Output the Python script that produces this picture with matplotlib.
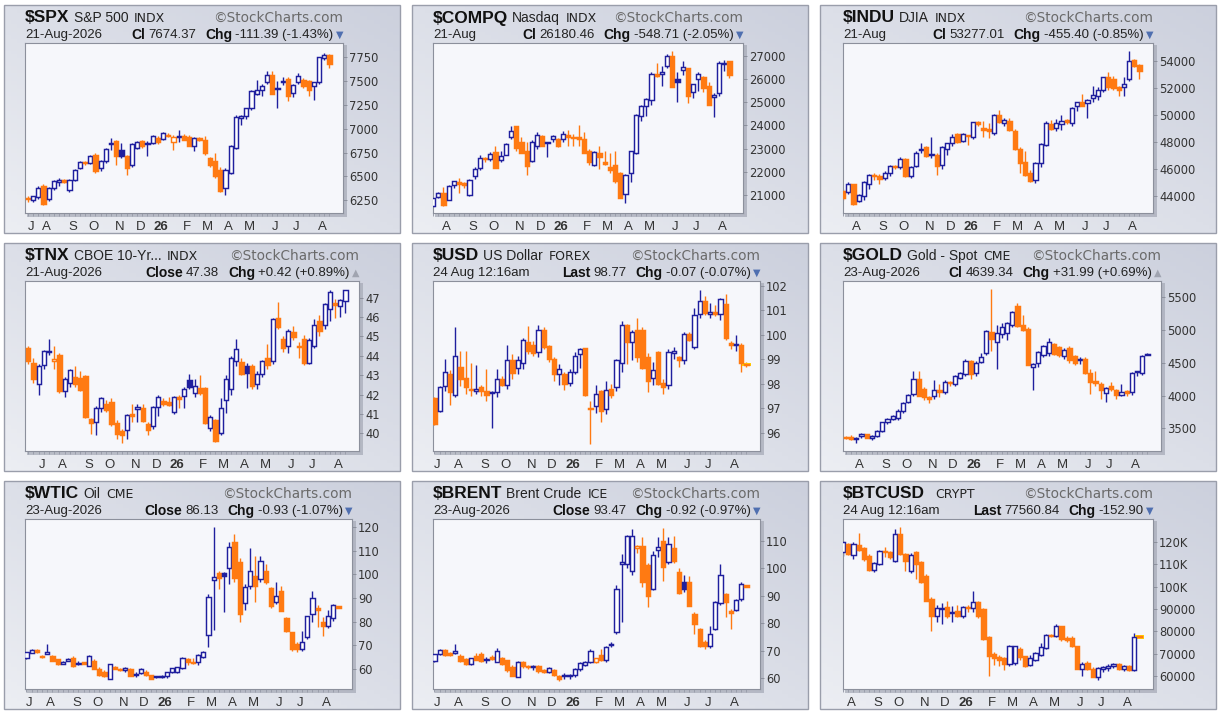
import datetime as dt
import numpy as np
import matplotlib
matplotlib.use('Agg')
import matplotlib.pyplot as plt
from matplotlib.patches import Rectangle

W, H = 1224, 716
BLUE = '#1f1f9e'
ORANGE = '#ff7a12'

# weekly candles (open, high, low, close)
spx = [(6270, 6290, 6235, 6262), (6255, 6300, 6230, 6290), (6280, 6400, 6260, 6380), (6400, 6420, 6205, 6215),
       (6260, 6390, 6240, 6380), (6380, 6460, 6360, 6450), (6440, 6480, 6400, 6465), (6455, 6470, 6430, 6449),
       (6362, 6470, 6340, 6466), (6466, 6580, 6450, 6571), (6590, 6660, 6580, 6651), (6645, 6660, 6620, 6640),
       (6640, 6720, 6630, 6710), (6728, 6740, 6536, 6554), (6588, 6670, 6560, 6658), (6658, 6800, 6645, 6787),
       (6840, 6900, 6780, 6845), (6868, 6880, 6623, 6710), (6773, 6850, 6690, 6718), (6710, 6720, 6519, 6588),
       (6616, 6850, 6600, 6843), (6798, 6870, 6790, 6857), (6868, 6880, 6800, 6815), (6850, 6870, 6710, 6838),
       (6850, 6930, 6840, 6920), (6903, 6920, 6840, 6857), (6892, 6960, 6880, 6955), (6935, 6955, 6915, 6927),
       (6857, 6930, 6780, 6913), (6918, 6990, 6857, 6922), (6920, 6945, 6880, 6885), (6913, 6930, 6815, 6822),
       (6815, 6910, 6763, 6900), (6895, 6910, 6870, 6890), (6885, 6920, 6720, 6745), (6693, 6700, 6600, 6623),
       (6658, 6745, 6480, 6501), (6571, 6600, 6340, 6344), (6379, 6590, 6310, 6571), (6536, 6830, 6520, 6815),
       (6798, 7140, 6790, 7122), (7112, 7140, 7042, 7129), (7129, 7220, 7100, 7216), (7216, 7400, 7200, 7391),
       (7366, 7510, 7350, 7401), (7401, 7470, 7340, 7450), (7485, 7600, 7470, 7565), (7565, 7600, 7360, 7366),
       (7420, 7500, 7216, 7426), (7502, 7540, 7460, 7485), (7520, 7540, 7290, 7338), (7373, 7470, 7330, 7460),
       (7485, 7580, 7470, 7555), (7513, 7530, 7420, 7443), (7495, 7510, 7340, 7401), (7450, 7480, 7300, 7485),
       (7485, 7750, 7470, 7745), (7740, 7795, 7720, 7774), (7774, 7780, 7635, 7674)]

compq = [(20500, 20860, 20450, 20850), (20900, 21100, 20850, 21070), (21070, 21350, 20500, 20570),
         (20780, 21400, 20750, 21360), (21430, 21600, 21300, 21580), (21550, 21720, 21070, 21480),
         (21500, 21550, 21300, 21400), (21000, 21700, 20950, 21650), (21800, 22200, 21700, 22100),
         (22150, 22700, 22050, 22600), (22600, 22650, 22400, 22550), (22560, 22850, 22450, 22780),
         (22870, 23100, 22150, 22150), (22520, 22900, 22400, 22660), (22730, 23250, 22700, 23200),
         (23480, 23980, 23400, 23750), (23960, 23980, 22900, 23030), (23300, 23500, 22800, 22800),
         (22880, 23300, 21850, 22230), (22450, 23350, 22400, 23300), (23100, 23700, 23000, 23600),
         (23530, 23600, 23100, 23100), (23250, 23300, 22650, 23280), (23400, 23600, 23300, 23550),
         (23400, 23450, 23050, 23100), (23400, 23750, 23300, 23650), (23580, 23800, 23100, 23500),
         (23500, 23650, 23100, 23450), (23480, 24000, 23100, 23420), (23400, 23700, 22800, 22820),
         (22900, 23000, 22300, 22400), (22300, 22900, 22250, 22850), (22790, 23100, 22100, 22630),
         (22400, 22900, 22300, 22350), (22200, 22800, 21950, 22050), (22300, 22900, 21500, 21600),
         (21950, 22000, 20850, 20860), (21050, 21900, 20640, 21870), (21940, 22900, 21550, 22880),
         (22800, 24500, 22750, 24450), (24400, 24900, 24200, 24830), (24850, 25200, 24400, 25150),
         (25120, 26300, 24900, 26250), (26200, 26700, 26100, 26170), (26250, 26600, 25700, 26300),
         (26600, 27100, 26500, 27000), (27000, 27220, 25650, 25670), (26000, 26300, 25000, 25880),
         (26400, 26780, 26200, 26550), (26500, 26500, 24980, 25270), (25450, 25800, 25200, 25780),
         (26000, 26300, 25500, 26250), (26100, 26150, 25450, 25630), (25700, 25900, 24900, 24900),
         (25240, 25400, 24370, 25330), (25400, 26800, 25300, 26700), (26680, 26850, 26350, 26720),
         (26780, 26800, 26050, 26180)]

indu = [(44350, 44500, 43700, 43800), (44250, 45000, 44100, 44900), (44850, 44900, 43300, 43350),
        (43600, 44100, 43500, 44050), (44000, 45100, 43700, 45000), (44900, 45600, 44500, 45550),
        (45550, 45700, 45200, 45500), (45500, 45600, 44850, 45250), (45300, 45800, 45200, 45700),
        (45700, 46300, 45500, 46200), (46200, 46300, 45950, 46150), (46150, 46900, 46000, 46700),
        (46700, 46800, 45400, 45450), (45450, 46200, 45300, 46100), (46200, 47300, 46100, 47200),
        (47400, 47900, 47200, 47450), (47600, 47700, 46900, 46950), (47100, 48400, 46800, 47000),
        (47050, 47150, 45550, 46200), (46300, 47700, 46000, 47650), (47450, 47950, 47000, 47900),
        (47900, 48600, 47700, 48400), (48600, 48700, 47950, 48000), (48100, 48700, 48000, 48600),
        (48500, 48550, 47800, 48450), (48400, 49500, 48200, 49450), (49500, 49550, 49200, 49300),
        (49050, 49550, 48400, 48900), (48950, 49400, 48300, 48850), (48700, 50100, 48500, 50000),
        (50000, 50400, 49400, 49450), (49400, 49800, 49200, 49600), (49550, 49800, 48850, 48900),
        (48800, 48950, 47400, 47450), (47450, 47600, 45700, 46450), (46500, 47300, 45500, 45550),
        (45700, 45900, 45050, 45100), (45200, 46500, 44950, 46450), (46450, 47900, 46100, 47850),
        (47800, 49550, 47700, 49400), (49350, 49650, 48900, 49000), (49050, 49700, 48800, 49400),
        (49300, 50000, 48900, 49550), (49600, 49700, 49300, 49500), (49400, 50600, 49150, 50500),
        (50650, 51000, 50300, 50950), (51000, 51600, 50700, 50700), (50900, 51200, 49800, 51150),
        (51300, 52200, 51000, 51500), (51400, 52100, 51100, 51900), (51900, 52800, 51700, 52800),
        (52800, 53200, 51900, 52100), (52700, 52900, 51900, 52050), (52100, 52200, 51400, 51900),
        (52100, 52800, 51400, 52350), (52650, 54750, 52500, 54000), (54100, 54200, 53600, 53650),
        (53700, 53800, 52700, 53277)]

tnx = [(44.4, 44.5, 43.6, 43.75), (43.65, 43.9, 42.6, 42.8), (42.55, 43.6, 42.0, 43.5), (43.55, 44.3, 43.3, 44.25),
       (44.2, 44.85, 44.05, 44.27), (43.72, 44.5, 43.3, 43.82), (44.05, 44.15, 42.1, 42.18), (42.2, 42.9, 41.85, 42.8),
       (42.6, 43.3, 42.4, 43.25), (42.9, 43.5, 42.4, 42.55), (42.85, 43.2, 42.2, 42.25), (42.95, 43.0, 40.8, 40.85),
       (40.75, 40.8, 39.95, 40.55), (40.6, 41.4, 39.9, 41.3), (41.3, 41.9, 41.1, 41.8), (41.5, 41.7, 41.1, 41.2),
       (41.6, 41.8, 40.4, 40.5), (40.55, 40.7, 39.7, 39.95), (40.1, 40.2, 39.5, 39.9), (40.15, 41.0, 39.7, 40.95),
       (41.0, 41.5, 40.6, 40.9), (41.25, 41.5, 40.6, 41.35), (41.3, 41.5, 40.6, 40.65), (40.5, 40.6, 39.9, 40.15),
       (40.4, 41.4, 40.2, 41.35), (41.35, 42.0, 40.9, 41.9), (41.65, 41.8, 41.4, 41.5), (41.6, 41.85, 41.4, 41.45),
       (41.1, 41.95, 41.0, 41.85), (41.85, 42.0, 41.3, 41.75), (41.95, 42.4, 41.3, 42.3), (42.75, 43.05, 42.3, 42.4),
       (42.1, 42.8, 41.9, 42.45), (42.35, 43.0, 42.0, 42.1), (42.35, 42.4, 40.5, 40.55), (40.3, 40.95, 40.1, 40.85),
       (40.7, 40.75, 39.55, 39.6), (40.0, 41.8, 39.9, 41.3), (41.7, 43.0, 41.05, 42.8), (42.3, 44.0, 42.0, 43.9),
       (43.75, 44.85, 43.5, 44.35), (43.7, 43.9, 43.0, 43.05), (43.45, 43.65, 42.35, 43.1), (43.45, 43.6, 42.3, 42.45),
       (42.55, 43.2, 42.3, 43.05), (43.05, 43.8, 42.9, 43.75), (43.9, 44.6, 43.3, 43.55), (43.75, 45.95, 43.6, 45.9),
       (45.95, 46.8, 45.4, 45.5), (44.85, 45.0, 44.2, 44.4), (44.5, 45.4, 44.15, 45.3), (45.25, 45.55, 44.8, 44.95),
       (44.5, 44.7, 43.9, 44.45), (44.85, 45.1, 43.55, 43.65), (43.65, 44.9, 43.6, 44.8), (44.5, 45.9, 44.4, 45.6),
       (45.8, 46.1, 45.0, 45.3), (45.6, 46.75, 45.4, 46.65), (46.4, 47.4, 45.8, 47.3), (46.7, 46.95, 45.95, 46.6),
       (46.55, 46.95, 46.0, 46.9), (46.85, 47.3, 46.2, 47.38)]

usd = [(97.4, 97.45, 96.3, 96.35), (96.9, 97.9, 96.85, 97.85), (97.9, 99.0, 97.7, 98.5), (98.4, 98.55, 97.15, 97.65),
       (97.55, 100.3, 97.45, 99.15), (98.7, 99.35, 97.9, 98.2), (98.25, 99.35, 97.6, 97.85), (97.8, 98.85, 97.5, 97.75),
       (97.72, 98.75, 97.6, 97.78), (97.85, 97.95, 97.5, 97.7), (97.7, 98.6, 97.3, 97.55), (97.63, 97.7, 96.2, 97.67),
       (97.65, 98.6, 97.45, 98.2), (98.2, 98.3, 97.9, 97.95), (97.95, 99.6, 97.8, 98.95), (98.95, 99.2, 98.2, 98.45),
       (98.65, 99.15, 98.4, 98.95), (98.85, 99.85, 98.6, 99.8), (99.7, 100.35, 99.2, 99.35), (99.6, 99.75, 99.15, 99.25),
       (99.3, 100.4, 99.1, 100.2), (100.2, 100.3, 99.4, 99.5), (99.55, 99.6, 98.9, 99.0), (99.0, 99.1, 98.1, 98.4),
       (98.4, 98.8, 97.95, 98.6), (98.4, 98.5, 97.75, 97.98), (98.05, 98.6, 97.9, 98.48), (98.5, 99.3, 98.4, 99.15),
       (99.2, 99.45, 98.65, 99.4), (99.45, 99.45, 97.5, 97.55), (96.98, 97.3, 95.55, 97.0), (97.1, 97.95, 96.8, 97.6),
       (97.7, 97.75, 96.45, 96.9), (96.95, 98.1, 96.75, 97.75), (97.8, 98.0, 97.4, 97.55), (97.85, 99.0, 97.7, 98.95),
       (98.85, 100.55, 98.5, 100.4), (100.4, 100.45, 98.8, 99.7), (99.7, 100.2, 98.95, 100.1), (100.2, 100.7, 98.9, 99.1),
       (100.2, 100.3, 98.6, 98.65), (99.1, 99.25, 97.65, 98.1), (98.25, 98.9, 97.95, 98.55), (99.3, 99.35, 97.95, 98.0),
       (98.05, 98.2, 97.6, 97.85), (97.95, 99.4, 97.8, 99.3), (99.25, 99.5, 99.0, 99.32), (99.1, 99.15, 98.7, 98.98),
       (98.95, 100.1, 98.8, 100.05), (100.05, 100.1, 99.75, 99.8), (99.5, 101.1, 99.4, 100.8), (100.85, 101.85, 100.7, 101.4),
       (101.4, 101.6, 100.8, 100.9), (100.85, 101.3, 100.7, 100.95), (100.95, 101.2, 100.75, 100.85), (100.85, 101.5, 100.6, 101.45),
       (101.25, 101.65, 99.8, 99.85), (99.65, 99.75, 99.4, 99.6), (99.6, 100.0, 99.35, 99.63), (99.6, 99.65, 98.5, 98.85),
       (98.8, 98.88, 98.7, 98.77)]

gold = [(3370, 3390, 3340, 3355), (3360, 3400, 3320, 3345), (3340, 3365, 3280, 3350), (3380, 3430, 3350, 3415),
        (3410, 3420, 3350, 3360), (3355, 3395, 3320, 3390), (3390, 3470, 3370, 3460), (3465, 3600, 3440, 3590),
        (3590, 3660, 3570, 3640), (3640, 3700, 3620, 3690), (3650, 3790, 3630, 3770), (3760, 3900, 3730, 3890),
        (3900, 4030, 3880, 4010), (4020, 4380, 4000, 4250), (4250, 4370, 3990, 4000), (4100, 4130, 3930, 3970),
        (3980, 3990, 3880, 3940), (3990, 4230, 3950, 4090), (4080, 4180, 3970, 4060), (4050, 4230, 4030, 4210),
        (4200, 4220, 4150, 4190), (4170, 4310, 4140, 4290), (4270, 4360, 4250, 4340), (4330, 4550, 4300, 4520),
        (4530, 4540, 4250, 4330), (4340, 4530, 4300, 4500), (4510, 4650, 4490, 4580), (4650, 5000, 4620, 4980),
        (4960, 5620, 4680, 4860), (4820, 5080, 4400, 4950), (4930, 5100, 4880, 5040), (4950, 5120, 4850, 5100),
        (5070, 5280, 5040, 5270), (5360, 5410, 5050, 5060), (5080, 5230, 4980, 5000), (5020, 5040, 4460, 4470),
        (4430, 4500, 4090, 4480), (4490, 4680, 4440, 4670), (4620, 4770, 4590, 4750), (4640, 4880, 4600, 4820),
        (4790, 4800, 4620, 4630), (4740, 4760, 4580, 4620), (4600, 4720, 4560, 4700), (4720, 4760, 4500, 4540),
        (4600, 4620, 4470, 4500), (4540, 4590, 4480, 4560), (4560, 4580, 4330, 4350), (4350, 4400, 4030, 4200),
        (4220, 4380, 4150, 4190), (4170, 4200, 3950, 4090), (4040, 4130, 3900, 4120), (4150, 4200, 4070, 4100),
        (4090, 4100, 3950, 4010), (4010, 4180, 3990, 4050), (4070, 4090, 3990, 4040), (4050, 4360, 4010, 4350),
        (4360, 4380, 4300, 4370), (4340, 4620, 4320, 4607), (4620, 4640, 4610, 4639)]

wtic = [(64.6, 67.2, 64.3, 67.0), (66.9, 68.6, 66.6, 68.2), (68.2, 68.4, 66.9, 67.0), (65.5, 65.8, 64.8, 65.0),
        (66.7, 70.6, 66.5, 66.9), (65.6, 66.0, 63.2, 63.5), (64.0, 64.3, 61.8, 62.2), (62.3, 63.4, 62.0, 63.1),
        (63.5, 64.8, 63.3, 64.2), (64.5, 65.3, 61.0, 61.4), (62.3, 63.5, 61.8, 62.5), (62.6, 63.0, 61.9, 62.3),
        (61.4, 66.0, 61.2, 65.6), (63.5, 64.0, 59.8, 60.0), (60.0, 60.7, 57.0, 57.3), (58.8, 59.5, 56.7, 56.9),
        (55.9, 62.3, 55.7, 61.9), (60.8, 61.2, 59.8, 60.0), (60.0, 60.5, 59.2, 59.8), (59.9, 60.8, 58.5, 60.0),
        (60.0, 60.3, 56.9, 57.2), (57.4, 58.8, 56.5, 57.6), (58.1, 60.3, 57.8, 59.8), (58.8, 59.4, 57.2, 57.5),
        (57.5, 57.6, 55.6, 55.9), (56.6, 57.2, 56.2, 56.8), (56.7, 57.6, 56.2, 56.9), (56.9, 58.6, 56.3, 58.6),
        (58.7, 60.4, 58.2, 60.2), (58.5, 61.0, 58.3, 60.7), (60.2, 65.0, 59.8, 64.5), (64.2, 64.8, 61.5, 62.8),
        (63.0, 64.5, 62.3, 62.6), (62.8, 66.4, 61.6, 66.0), (65.0, 67.5, 64.6, 67.0), (74.2, 91.8, 69.2, 90.3),
        (97.8, 120.0, 76.3, 98.8), (100.8, 101.6, 94.0, 98.4), (100.6, 101.0, 84.0, 99.5), (102.6, 113.6, 96.0, 111.5),
        (113.6, 117.2, 97.0, 98.4), (105.4, 107.0, 79.8, 83.3), (88.0, 96.0, 85.0, 94.6), (95.3, 111.1, 94.0, 101.6),
        (99.5, 108.0, 88.2, 95.3), (98.1, 108.0, 97.0, 105.5), (101.6, 104.5, 96.0, 96.7), (94.2, 94.5, 86.0, 86.8),
        (88.5, 96.7, 87.5, 90.8), (93.2, 95.3, 84.5, 84.7), (81.4, 82.0, 75.8, 76.2), (75.5, 75.8, 67.6, 68.5),
        (70.6, 71.2, 67.0, 68.3), (68.6, 76.2, 67.8, 71.3), (73.5, 82.5, 72.5, 82.5), (83.3, 93.2, 80.0, 90.0),
        (86.0, 87.0, 77.7, 85.0), (80.0, 82.0, 74.0, 78.3), (78.0, 85.0, 77.5, 82.5), (81.5, 87.5, 80.5, 87.06),
        (86.3, 86.5, 85.8, 86.13)]

brent = [(66.4, 69.0, 66.0, 68.8), (68.8, 70.6, 68.3, 70.4), (70.4, 70.8, 68.0, 68.5), (69.2, 69.5, 68.0, 68.3),
         (69.5, 72.4, 69.0, 69.7), (68.2, 68.8, 66.0, 66.4), (67.0, 67.5, 65.0, 65.2), (65.3, 67.5, 65.0, 67.2),
         (68.2, 69.2, 66.5, 66.8), (68.8, 69.5, 66.0, 66.4), (66.9, 67.8, 65.7, 67.0), (67.7, 68.3, 66.5, 66.9),
         (66.0, 71.0, 65.8, 70.0), (67.3, 67.6, 64.8, 65.2), (66.5, 66.8, 62.4, 62.9), (64.0, 64.8, 60.8, 61.0),
         (60.5, 66.3, 60.3, 66.0), (65.8, 66.3, 63.9, 64.3), (64.6, 65.0, 63.5, 64.1), (64.15, 65.0, 63.0, 64.3),
         (64.5, 65.0, 62.0, 62.6), (62.8, 63.3, 62.0, 62.4), (62.4, 64.0, 62.0, 63.8), (63.0, 63.5, 60.8, 61.2),
         (61.0, 61.3, 59.0, 59.8), (60.8, 61.8, 59.9, 61.0), (60.8, 61.7, 59.8, 61.2), (61.2, 63.8, 60.5, 63.4),
         (63.2, 65.8, 62.8, 65.4), (64.8, 66.3, 64.3, 65.8), (65.8, 70.8, 65.5, 69.8), (65.9, 67.5, 65.5, 67.2),
         (68.5, 70.6, 66.4, 66.7), (66.5, 71.8, 66.0, 71.5), (72.0, 73.1, 71.2, 72.6), (76.7, 94.0, 76.0, 92.4),
         (101.7, 105.2, 80.3, 102.3), (101.5, 112.2, 100.0, 111.6), (99.0, 114.2, 97.5, 111.7), (107.2, 108.5, 105.6, 108.1),
         (108.2, 111.2, 93.0, 94.9), (101.2, 102.0, 85.8, 90.0), (92.4, 106.4, 92.0, 104.8), (106.7, 111.2, 104.0, 107.6),
         (110.0, 114.8, 95.5, 100.3), (102.4, 111.2, 101.7, 108.8), (107.2, 111.8, 102.0, 102.7), (98.7, 100.0, 90.5, 91.0),
         (95.0, 97.5, 91.5, 92.4), (95.0, 97.3, 86.2, 86.4), (83.3, 84.0, 76.1, 79.7), (78.0, 78.2, 71.5, 71.8),
         (73.3, 74.0, 70.5, 71.7), (71.8, 79.0, 71.0, 76.0), (78.0, 88.0, 77.5, 87.8), (87.4, 101.5, 86.8, 97.5),
         (90.6, 91.0, 82.2, 87.6), (84.2, 85.2, 78.0, 84.0), (85.0, 88.8, 84.5, 88.6), (88.7, 94.9, 88.2, 94.39),
         (93.6, 93.7, 93.3, 93.47)]

btc = [(115500, 120500, 113500, 119700), (119000, 119500, 114000, 114500), (114000, 120000, 112300, 119000),
       (118500, 123800, 116000, 116500), (117000, 117500, 111500, 112300), (113800, 114500, 107000, 107300),
       (107200, 110800, 106500, 110500), (110100, 116500, 109500, 116000), (115800, 117500, 113000, 115200),
       (115500, 116000, 112500, 113000), (111500, 125600, 111000, 123400), (123400, 126400, 114000, 114500),
       (114500, 115000, 107000, 111500), (107100, 114800, 106000, 114200), (115200, 116000, 103500, 110100),
       (110800, 111500, 101800, 102000), (104800, 105500, 93500, 93700), (94400, 95500, 80300, 87000),
       (86700, 92000, 84000, 90300), (90000, 92800, 83300, 90400), (90800, 93700, 86000, 87000),
       (88300, 91500, 84000, 88500), (89200, 92000, 86500, 87000), (87000, 91500, 85800, 91000),
       (91000, 92000, 88500, 90500), (90300, 98200, 88500, 93300), (93000, 93500, 86000, 87000),
       (90000, 90500, 76000, 76600), (77400, 78000, 60300, 69200), (70000, 71000, 65000, 68000),
       (68500, 69500, 64500, 67500), (68000, 68500, 62800, 65500), (65700, 74000, 64500, 73500),
       (65900, 73500, 65000, 73600), (72200, 73000, 67500, 68500), (69000, 69200, 64200, 64800),
       (65000, 69500, 64500, 68000), (67500, 71000, 67000, 70200), (69300, 75000, 69000, 73200),
       (72500, 79000, 72000, 78500), (78500, 79000, 77500, 78000), (78000, 83200, 77500, 82500),
       (82300, 82500, 75800, 76600), (77000, 77800, 75500, 76000), (77300, 78100, 73000, 73600),
       (73300, 73500, 63200, 63300), (63300, 66500, 60300, 65500), (66000, 67000, 62700, 63300),
       (63300, 64000, 59500, 59800), (59800, 64000, 58200, 63500), (63500, 64500, 62000, 64000),
       (63800, 65500, 62500, 64700), (64700, 66000, 63500, 65500), (65500, 66000, 63000, 63300),
       (63300, 65000, 62300, 64700), (64500, 65000, 62500, 62700), (62700, 79400, 62500, 77700),
       (77700, 77800, 77400, 77561)]

# per-panel header text and scales
symbols = ['$SPX', '$COMPQ', '$INDU', '$TNX', '$USD', '$GOLD', '$WTIC', '$BRENT', '$BTCUSD']
names = ['S&P 500', 'Nasdaq', 'DJIA', 'CBOE 10-Yr...', 'US Dollar', 'Gold - Spot', 'Oil', 'Brent Crude', '']
exchanges = ['INDX', 'INDX', 'INDX', 'INDX', 'FOREX', 'CME', 'CME', 'ICE', 'CRYPT']
date_texts = ['21-Aug-2026', '21-Aug', '21-Aug', '21-Aug-2026', '24 Aug 12:16am', '23-Aug-2026',
              '23-Aug-2026', '23-Aug-2026', '24 Aug 12:16am']
price_labels = ['Cl', 'Cl', 'Cl', 'Close', 'Last', 'Cl', 'Close', 'Close', 'Last']
prices = ['7674.37', '26180.46', '53277.01', '47.38', '98.77', '4639.34', '86.13', '93.47', '77560.84']
changes = ['-111.39 (-1.43%)', '-548.71 (-2.05%)', '-455.40 (-0.85%)', '+0.42 (+0.89%)', '-0.07 (-0.07%)',
           '+31.99 (+0.69%)', '-0.93 (-1.07%)', '-0.92 (-0.97%)', '-152.90']
last_dates = ['2026-08-21', '2026-08-21', '2026-08-21', '2026-08-21', '2026-08-28', '2026-08-28',
              '2026-08-28', '2026-08-28', '2026-08-28']
y_limits = [(6117, 7896), (20205, 27578), (42710, 55365), (39.09, 47.86), (95.25, 102.2), (3155, 5744),
            (51.5, 123.5), (56.1, 117.9), (54360, 130100)]
y_ticks = [list(range(6250, 7751, 250)), list(range(21000, 27001, 1000)), list(range(44000, 54001, 2000)),
           list(range(40, 48)), list(range(96, 103)), list(range(3500, 5501, 500)), list(range(60, 121, 10)),
           list(range(60, 111, 10)), list(range(60000, 120001, 10000))]
btc_tick_labels = ['60000', '70000', '80000', '90000', '100K', '110K', '120K']
series = [spx, compq, indu, tnx, usd, gold, wtic, brent, btc]
highlight_last = [False, False, False, False, True, False, False, False, True]

# plot-area boxes in pixels (left, top, right, bottom)
plot_boxes = [(25, 43, 343, 213), (433, 43, 743, 213), (843, 43, 1153, 213),
              (25, 281, 359, 451), (433, 281, 760, 451), (843, 281, 1161, 451),
              (25, 519, 352, 689), (433, 519, 760, 689), (843, 519, 1153, 689)]
frame_x = [4, 412, 820]
frame_y = [5, 243, 481]
FW, FH = 396, 228
STEP = 5.2  # pixels per weekly candle

fig = plt.figure(figsize=(W / 100, H / 100), dpi=100)
bg = fig.add_axes([0, 0, 1, 1])
bg.set_xlim(0, W)
bg.set_ylim(H, 0)
bg.axis('off')

# frame gradient
gx, gy = np.meshgrid(np.linspace(0, 1, 60), np.linspace(0, 1, 60))
light = 0.5 * (1 - gx) + 0.5 * gy
dark_c = np.array([204, 208, 221]) / 255
light_c = np.array([236, 238, 243]) / 255
grad = dark_c + (light_c - dark_c) * light[..., None]

for fx in frame_x:
    for fy in frame_y:
        bg.imshow(grad, extent=(fx, fx + FW, fy + FH, fy), aspect='auto', zorder=0)
        bg.add_patch(Rectangle((fx, fy), FW, FH, fill=False, ec='#9a9eab', lw=1.0, zorder=1))

for (l, t, r, b) in plot_boxes:
    bg.add_patch(Rectangle((l + 2, t + 2), r - l + 2, b - t + 2, color='#a4a8b5', alpha=0.7, lw=0, zorder=1))

renderer = fig.canvas.get_renderer()


def text_width(t):
    return t.get_window_extent(renderer).width


def place_row(pieces, x, y, align='left'):
    objs = []
    for s, kw, gap in pieces:
        objs.append((bg.text(0, y, s, va='center', ha='left', **kw), gap))
    widths = [text_width(o) for o, _ in objs]
    total = sum(widths) + sum(g for _, g in objs[:-1])
    cx = x if align == 'left' else x - total
    for (o, g), w in zip(objs, widths):
        o.set_x(cx)
        cx += w + g


HFONT = 'Liberation Sans'

for k in range(9):
    bars = series[k]
    n = len(bars)
    l, t, r, b = plot_boxes[k]
    ft = frame_y[k // 3]

    ax = fig.add_axes([l / W, 1 - b / H, (r - l) / W, (b - t) / H])
    ax.set_facecolor('#f6f7fb')
    for sp in ax.spines.values():
        sp.set_color('#8c909c')
        sp.set_linewidth(0.8)

    lo_y, hi_y = y_limits[k]
    min_h = (hi_y - lo_y) / (b - t) * 1.3
    bw = 0.8
    prev = None
    for i, (o, h, lw_, c) in enumerate(bars):
        ref = prev if prev is not None else o
        col = BLUE if c >= ref else ORANGE
        ax.vlines(i, min(lw_, o, c), max(h, o, c), color=col, lw=1.0, zorder=2)
        b0, b1 = min(o, c), max(o, c)
        if b1 - b0 < min_h:
            mid = (b0 + b1) / 2
            b0, b1 = mid - min_h / 2, mid + min_h / 2
        face = col if c < o else 'white'
        if highlight_last[k] and i == n - 1:
            ax.add_patch(Rectangle((i - 0.8, b0 - min_h), 1.6, b1 - b0 + 2 * min_h,
                                   color='#ffd400', lw=0, zorder=2.5))
            col = ORANGE
            face = ORANGE
        ax.add_patch(Rectangle((i - bw / 2, b0), bw, b1 - b0, facecolor=face, edgecolor=col,
                               lw=1.05, zorder=3))
        prev = c

    right = n - 1 + 2.6
    ax.set_xlim(right - (r - l) / STEP, right)
    ax.set_ylim(lo_y, hi_y)

    # month labels
    end = dt.date.fromisoformat(last_dates[k])
    dates = [end - dt.timedelta(days=7 * (n - 1 - i)) for i in range(n)]
    pos, labs = [], []
    for i, d in enumerate(dates):
        if (i == 0 and d.day <= 14) or (i > 0 and d.month != dates[i - 1].month):
            pos.append(i + 0.6)
            labs.append('26' if d.month == 1 else 'JFMAMJJASOND'[d.month - 1])
    ax.set_xticks(pos)
    ax.set_xticklabels(labs, fontsize=9.5, family=HFONT, color='#333333')
    for tl in ax.get_xticklabels():
        if tl.get_text() == '26':
            tl.set_fontweight('bold')
    ax.set_xticks(np.arange(n), minor=True)
    ax.tick_params(axis='x', which='major', length=0, pad=6)
    ax.tick_params(axis='x', which='minor', length=2, color='#9a9eab', width=0.7)

    ax.yaxis.tick_right()
    ax.set_yticks(y_ticks[k])
    if k == 8:
        ax.set_yticklabels(btc_tick_labels)
    else:
        ax.set_yticklabels([str(v) for v in y_ticks[k]])
    ax.tick_params(axis='y', length=3, pad=1.5, labelsize=8.3, labelcolor='#333333', color='#8c909c', width=0.7)

    # header line 1
    place_row([(symbols[k], dict(fontsize=12.5, fontweight='bold', family=HFONT, color='#111111'), 4),
               (names[k], dict(fontsize=10, family=HFONT, color='#222222'), 6),
               (exchanges[k], dict(fontsize=9, family='DejaVu Sans', color='#222222'), 0)],
              l, ft + 13)
    bg.text(r, ft + 13, '\u00a9StockCharts.com', ha='right', va='center', fontsize=9.8,
            family='DejaVu Sans', color='#6a6a6a')

    # header line 2
    bg.text(l, ft + 30, date_texts[k], ha='left', va='center', fontsize=9.5, family=HFONT, color='#222222')
    up = changes[k].startswith('+')
    place_row([(price_labels[k], dict(fontsize=10, fontweight='bold', family=HFONT, color='#111111'), 3),
               (prices[k], dict(fontsize=9.5, family=HFONT, color='#222222'), 9),
               ('Chg', dict(fontsize=10, fontweight='bold', family=HFONT, color='#111111'), 3),
               (changes[k], dict(fontsize=9.5, family=HFONT, color='#222222'), 2),
               ('\u25b2' if up else '\u25bc', dict(fontsize=7, family='DejaVu Sans',
                                                  color='#a0a4b0' if up else '#4f6fb0'), 0)],
              r, ft + 30, align='right')

fig.savefig('out.png', dpi=100)
